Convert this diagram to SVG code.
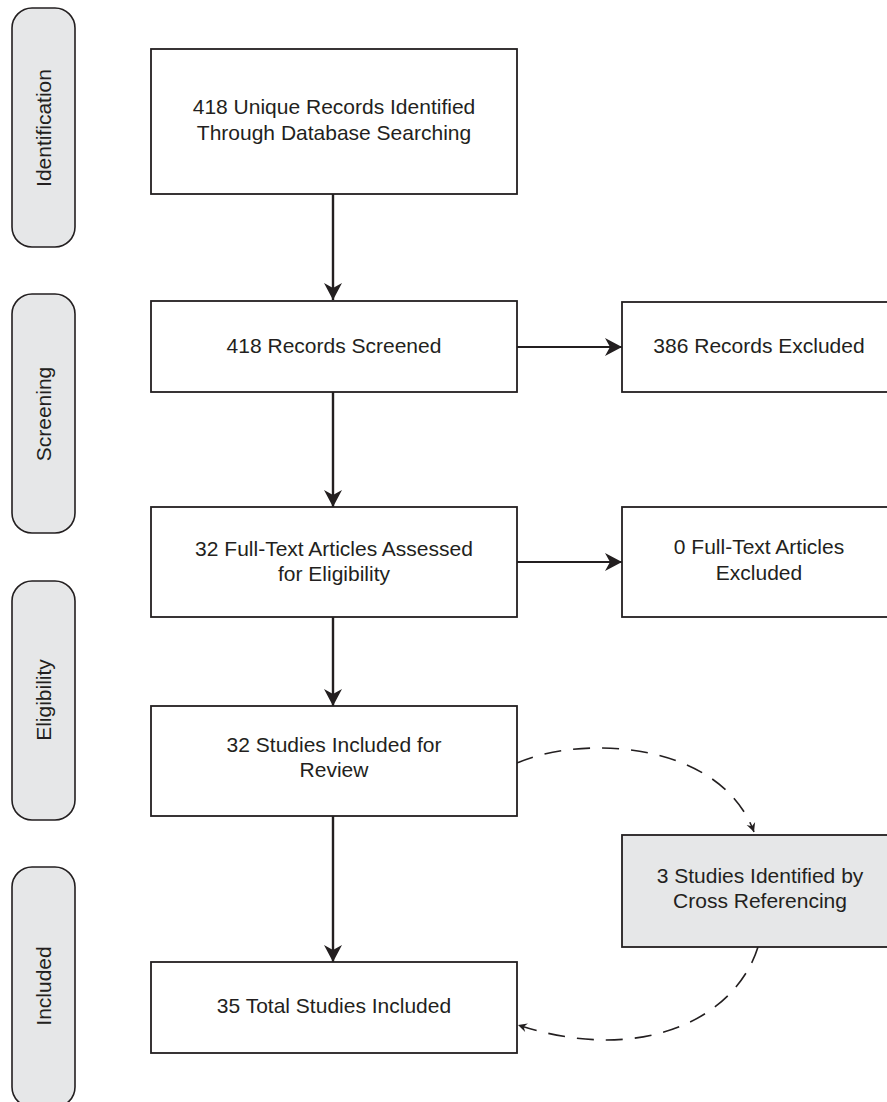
<svg xmlns="http://www.w3.org/2000/svg" width="887" height="1102" viewBox="0 0 887 1102">
<style>
.pill{fill:#e6e7e8;stroke:#231f20;stroke-width:1.6}
.box{fill:#ffffff;stroke:#231f20;stroke-width:1.8}
.gbox{fill:#e6e7e8;stroke:#231f20;stroke-width:1.8}
text{font-family:"Liberation Sans",Arial,Helvetica,sans-serif;font-size:21px;fill:#231f20;text-anchor:middle}
.arrow{stroke:#231f20;stroke-width:2.4;fill:none}
.harrow{stroke:#231f20;stroke-width:1.8;fill:none}
.dash{stroke:#231f20;stroke-width:1.6;fill:none;stroke-dasharray:17 12}
</style>
<defs>
<marker id="ah" markerUnits="userSpaceOnUse" viewBox="-20 -12 24 24" refX="0" refY="0" markerWidth="24" markerHeight="24" orient="auto">
<path d="M0,0 L-17,-9 L-12,0 L-17,9 Z" fill="#231f20"/>
</marker>
<marker id="sah" markerUnits="userSpaceOnUse" viewBox="-12 -8 16 16" refX="0" refY="0" markerWidth="16" markerHeight="16" orient="auto">
<path d="M0,0 L-9,-4.5 L-6,0 L-9,4.5 Z" fill="#231f20"/>
</marker>
</defs>

<g id="phase-identification">
<rect class="pill" x="12" y="8" width="63" height="239" rx="20" ry="20"/>
<text transform="translate(51,128) rotate(-90)">Identification</text>
</g>
<g id="phase-screening">
<rect class="pill" x="12" y="294" width="63" height="239" rx="20" ry="20"/>
<text transform="translate(51,414) rotate(-90)">Screening</text>
</g>
<g id="phase-eligibility">
<rect class="pill" x="12" y="581" width="63" height="239" rx="20" ry="20"/>
<text transform="translate(51,700) rotate(-90)">Eligibility</text>
</g>
<g id="phase-included">
<rect class="pill" x="12" y="867" width="63" height="240" rx="20" ry="20"/>
<text transform="translate(51,986) rotate(-90)">Included</text>
</g>

<g id="connectors">
<line class="arrow" x1="333" y1="194" x2="333" y2="300" marker-end="url(#ah)"/>
<line class="arrow" x1="333" y1="392" x2="333" y2="507" marker-end="url(#ah)"/>
<line class="arrow" x1="333" y1="617" x2="333" y2="706" marker-end="url(#ah)"/>
<line class="arrow" x1="333" y1="816" x2="333" y2="962" marker-end="url(#ah)"/>
<line class="harrow" x1="517" y1="347" x2="622" y2="347" marker-end="url(#ah)"/>
<line class="harrow" x1="517" y1="562" x2="622" y2="562" marker-end="url(#ah)"/>
<path class="dash" d="M517,763 C580,735 720,740 754,832" marker-end="url(#sah)"/>
<path class="dash" d="M758,947 C735,1020 640,1065 518,1025" marker-end="url(#sah)"/>
</g>

<g id="node-records-identified">
<rect class="box" x="151" y="49" width="366" height="145"/>
<text x="334" y="114">418 Unique Records Identified</text>
<text x="334" y="140">Through Database Searching</text>
</g>
<g id="node-records-screened">
<rect class="box" x="151" y="301" width="366" height="91"/>
<text x="334" y="353">418 Records Screened</text>
</g>
<g id="node-records-excluded">
<rect class="box" x="622" y="302" width="274" height="90"/>
<text x="759" y="353">386 Records Excluded</text>
</g>
<g id="node-fulltext-assessed">
<rect class="box" x="151" y="507" width="366" height="110"/>
<text x="334" y="556">32 Full-Text Articles Assessed</text>
<text x="334" y="581">for Eligibility</text>
</g>
<g id="node-fulltext-excluded">
<rect class="box" x="622" y="507" width="274" height="110"/>
<text x="759" y="554">0 Full-Text Articles</text>
<text x="759" y="580">Excluded</text>
</g>
<g id="node-studies-review">
<rect class="box" x="151" y="706" width="366" height="110"/>
<text x="334" y="752">32 Studies Included for</text>
<text x="334" y="777">Review</text>
</g>
<g id="node-cross-referencing">
<rect class="gbox" x="622" y="835" width="274" height="112"/>
<text x="760" y="883">3 Studies Identified by</text>
<text x="760" y="908">Cross Referencing</text>
</g>
<g id="node-total-included">
<rect class="box" x="151" y="962" width="366" height="91"/>
<text x="334" y="1013">35 Total Studies Included</text>
</g>
</svg>
